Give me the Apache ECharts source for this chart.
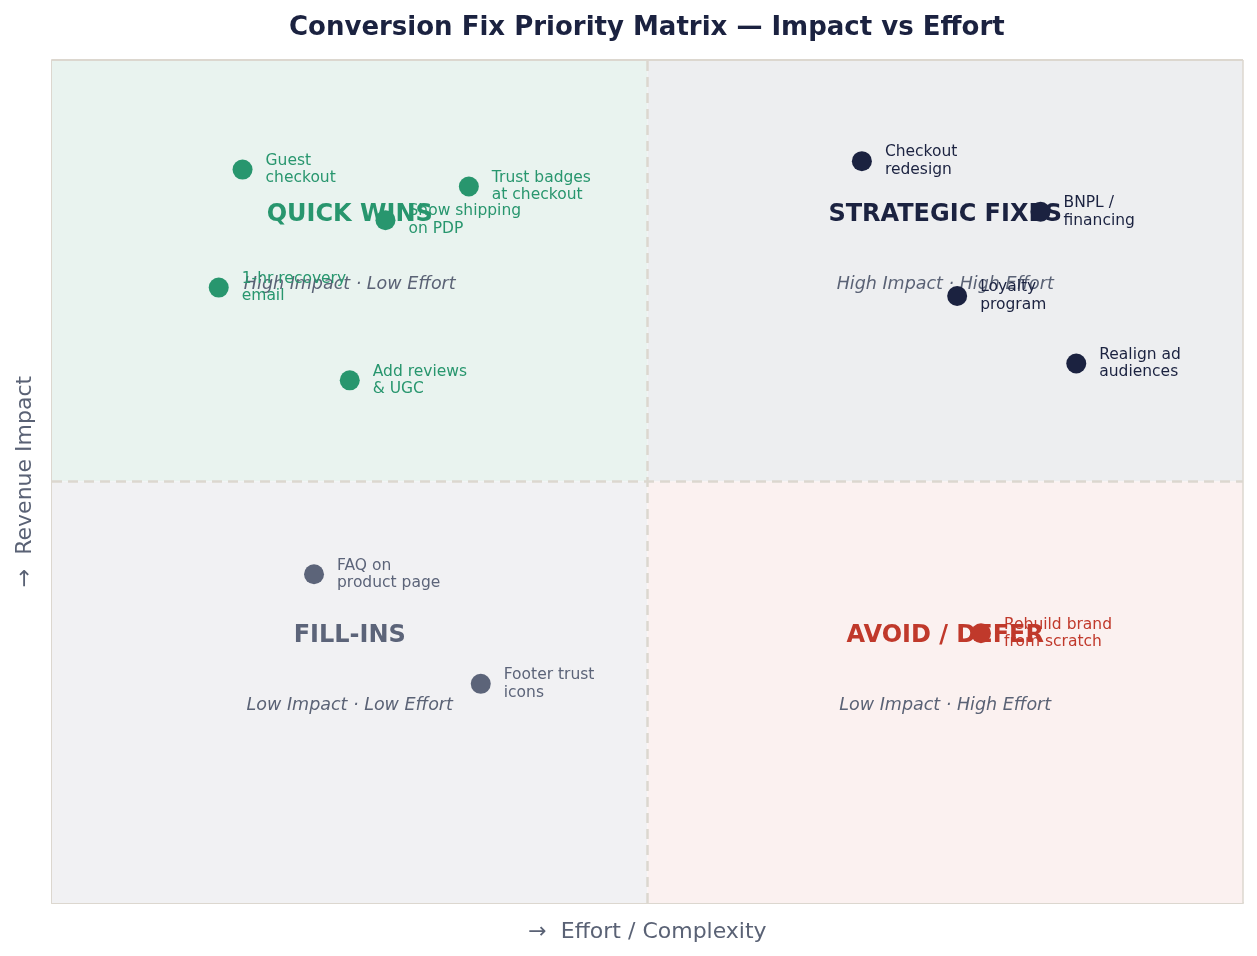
<!DOCTYPE html>
<html>
<head>
<meta charset="utf-8">
<title>Conversion Fix Priority Matrix</title>
<script src="https://cdn.jsdelivr.net/npm/echarts@6/dist/echarts.min.js"></script>
<style>
  html, body { margin: 0; padding: 0; background: #fff; }
  #chart { width: 1257px; height: 956px; }
</style>
</head>
<body>
<div id="chart"></div>
<script>
// fixes: [effort, impact, label]
var quickWins = [
  [1.6, 8.7, 'Guest\ncheckout'],
  [3.5, 8.5, 'Trust badges\nat checkout'],
  [2.8, 8.1, 'Show shipping\non PDP'],
  [1.4, 7.3, '1-hr recovery\nemail'],
  [2.5, 6.2, 'Add reviews\n& UGC']
]
var strategicFixes = [
  [6.8, 8.8, 'Checkout\nredesign'],
  [8.3, 8.2, 'BNPL /\nfinancing'],
  [7.6, 7.2, 'Loyalty\nprogram'],
  [8.6, 6.4, 'Realign ad\naudiences']
]
var fillIns = [
  [2.2, 3.9, 'FAQ on\nproduct page'],
  [3.6, 2.6, 'Footer trust\nicons']
]
var avoidDefer = [
  [7.8, 3.2, 'Rebuild brand\nfrom scratch']
]

// quadrant names: [x, y, title, subtitle]
var quadrantNames = [
  [2.5, 8.17, 'QUICK WINS', 'High Impact · Low Effort'],
  [7.5, 8.17, 'STRATEGIC FIXES', 'High Impact · High Effort'],
  [2.5, 3.17, 'FILL-INS', 'Low Impact · Low Effort'],
  [7.5, 3.17, 'AVOID / DEFER', 'Low Impact · High Effort']
]
var subtitleOffset = 0.83

var FONT = 'DejaVu Sans'
var colors = {
  quick: '#28966e',
  strategic: '#1b2240',
  fill: '#5c6479',
  avoid: '#c0392b'
}
var muted = '#5a6275'

function pointSeries (name, data, color) {
  return {
    name: name,
    type: 'scatter',
    symbolSize: 20,
    z: 5,
    itemStyle: { color: color, opacity: 1 },
    label: {
      show: true,
      position: 'right',
      distance: 13,
      color: color,
      fontFamily: FONT,
      fontSize: 15.5,
      lineHeight: 17.5,
      formatter: function (p) { return p.value[2] }
    },
    data: data
  }
}

var titleColors = [colors.quick, colors.strategic, colors.fill, colors.avoid]

var chart = echarts.init(document.getElementById('chart'))

var option = {
  animation: false,
  backgroundColor: '#ffffff',
  title: {
    text: 'Conversion Fix Priority Matrix — Impact vs Effort',
    left: 284,
    top: 10,
    textStyle: { fontFamily: FONT, fontSize: 26, fontWeight: 'bold', color: '#1b2240' }
  },
  grid: { left: 52, right: 14, top: 60, bottom: 53 },
  xAxis: {
    type: 'value',
    min: 0,
    max: 10,
    name: '→  Effort / Complexity',
    nameLocation: 'middle',
    nameGap: 18,
    nameTextStyle: { fontFamily: FONT, fontSize: 22, color: muted },
    axisLine: { show: true, lineStyle: { color: '#dcd7cf', width: 2 } },
    axisTick: { show: false },
    axisLabel: { show: false },
    splitLine: { show: false }
  },
  yAxis: {
    type: 'value',
    min: 0,
    max: 10,
    name: '→  Revenue Impact',
    nameLocation: 'middle',
    nameGap: 16,
    nameTextStyle: { fontFamily: FONT, fontSize: 22, color: muted },
    axisLine: { show: true, lineStyle: { color: '#dcd7cf', width: 2 } },
    axisTick: { show: false },
    axisLabel: { show: false },
    splitLine: { show: false }
  },
  series: [
    {
      name: 'quadrants',
      type: 'scatter',
      data: [],
      silent: true,
      markArea: {
        silent: true,
        itemStyle: { borderWidth: 0 },
        data: [
          [{ coord: [0, 5], itemStyle: { color: '#e9f3ef' } }, { coord: [5, 10] }],
          [{ coord: [5, 5], itemStyle: { color: '#edeef0' } }, { coord: [10, 10] }],
          [{ coord: [0, 0], itemStyle: { color: '#f1f1f3' } }, { coord: [5, 5] }],
          [{ coord: [5, 0], itemStyle: { color: '#fbf1f0' } }, { coord: [10, 5] }]
        ]
      },
      markLine: {
        silent: true,
        symbol: 'none',
        label: { show: false },
        lineStyle: { color: '#dcd7cf', type: [10, 6], width: 2.5 },
        data: [{ xAxis: 5 }, { yAxis: 5 }, [{ coord: [0, 10], lineStyle: { type: 'solid', width: 2 } }, { coord: [10, 10] }], [{ coord: [10, 0], lineStyle: { type: 'solid', width: 1.5 } }, { coord: [10, 10] }]]
      }
    },
    {
      name: 'quadrant titles',
      type: 'scatter',
      symbolSize: 0,
      silent: true,
      z: 3,
      itemStyle: { opacity: 1 },
      label: {
        show: true,
        position: 'inside',
        fontFamily: FONT,
        fontSize: 24,
        fontWeight: 'bold',
        opacity: 1,
        formatter: function (p) { return p.value[2] }
      },
      data: quadrantNames.map(function (q, i) {
        return { value: [q[0], q[1], q[2]], label: { color: titleColors[i] } }
      })
    },
    {
      name: 'quadrant subtitles',
      type: 'scatter',
      symbolSize: 0,
      silent: true,
      z: 3,
      itemStyle: { opacity: 1 },
      label: {
        show: true,
        position: 'inside',
        fontFamily: FONT,
        fontSize: 17.5,
        fontStyle: 'italic',
        color: muted,
        opacity: 1,
        formatter: function (p) { return p.value[2] }
      },
      data: quadrantNames.map(function (q) {
        return [q[0], q[1] - subtitleOffset, q[3]]
      })
    },
    pointSeries('Quick Wins', quickWins, colors.quick),
    pointSeries('Strategic Fixes', strategicFixes, colors.strategic),
    pointSeries('Fill-ins', fillIns, colors.fill),
    pointSeries('Avoid / Defer', avoidDefer, colors.avoid)
  ]
}

chart.setOption(option)
</script>
</body>
</html>
